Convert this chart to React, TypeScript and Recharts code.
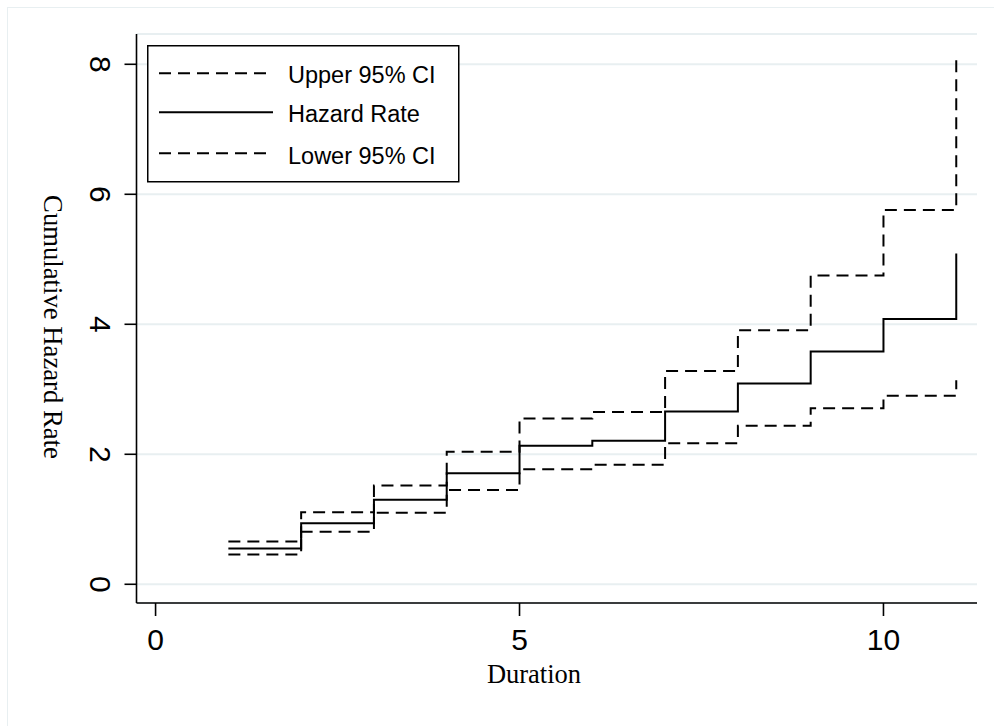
import React from 'react';
import { LineChart, Line, XAxis, YAxis, CartesianGrid, Legend } from 'recharts';

const durations = [1, 2, 3, 4, 5, 6, 7, 8, 9, 10, 11];
const hazardRate = [0.55, 0.94, 1.3, 1.71, 2.13, 2.21, 2.66, 3.09, 3.58, 4.08, 5.09];
const upperCI = [0.66, 1.11, 1.52, 2.04, 2.55, 2.65, 3.28, 3.91, 4.75, 5.76, 8.17];
const lowerCI = [0.46, 0.81, 1.1, 1.45, 1.77, 1.84, 2.17, 2.44, 2.71, 2.9, 3.14];
const xTicks = [0, 5, 10];
const yTicks = [0, 2, 4, 6, 8];
const seriesNames = ['Upper 95% CI', 'Hazard Rate', 'Lower 95% CI'];
const xTitle = 'Duration';
const yTitle = 'Cumulative Hazard Rate';

const data = durations.map((d, i) => ({
  duration: d,
  upper: upperCI[i],
  hazard: hazardRate[i],
  lower: lowerCI[i],
}));

const SANS = '"Liberation Sans", Arial, Helvetica, sans-serif';
const SERIF = '"Liberation Serif", "Times New Roman", serif';
const GRID = '#e8eff1';
const DASH = '12 7';

const XTick = (props: any) => {
  const { x, y, payload } = props;
  return (
    <text x={x} y={y + 34} textAnchor="middle" fontFamily={SANS} fontSize={30} fill="#000">
      {payload.value}
    </text>
  );
};

const YTick = (props: any) => {
  const { x, y, payload } = props;
  const tx = x - 35;
  return (
    <text
      x={tx}
      y={y}
      textAnchor="middle"
      transform={`rotate(90, ${tx}, ${y})`}
      fontFamily={SANS}
      fontSize={30}
      fill="#000"
    >
      {payload.value}
    </text>
  );
};

const LegendBox = () => {
  const rows = [
    { name: seriesNames[0], dash: DASH, ly: 28.3, ty: 38.3 },
    { name: seriesNames[1], dash: undefined, ly: 67.3, ty: 77.3 },
    { name: seriesNames[2], dash: DASH, ly: 108.3, ty: 118.5 },
  ];
  return (
    <svg width={313} height={138} style={{ display: 'block' }}>
      <rect x={0.75} y={0.75} width={311} height={136} fill="#fff" stroke="#000" strokeWidth={1.5} />
      {rows.map((r) => (
        <g key={r.name}>
          <line x1={12} x2={126} y1={r.ly} y2={r.ly} stroke="#000" strokeWidth={2} strokeDasharray={r.dash} />
          <text x={141} y={r.ty} fontFamily={SANS} fontSize={23.5} fill="#000">
            {r.name}
          </text>
        </g>
      ))}
    </svg>
  );
};

export default function App() {
  return (
    <div style={{ position: 'fixed', left: 0, top: 0, width: 994, height: 726, overflow: 'hidden', background: '#fff' }}>
      <div
        style={{
          position: 'absolute',
          left: 7,
          top: 7,
          width: 1100,
          height: 900,
          borderTop: `1.5px solid ${GRID}`,
          borderLeft: `1.5px solid ${GRID}`,
        }}
      />
      <div style={{ position: 'absolute', left: 8, top: 8 }}>
        <LineChart
          width={986}
          height={718}
          data={data}
          margin={{ top: 26, right: 17, bottom: 63, left: 68.5 }}
        >
          <CartesianGrid horizontal vertical={false} stroke={GRID} strokeWidth={2} />
          <XAxis
            dataKey="duration"
            type="number"
            domain={[-0.262, 11.285]}
            allowDataOverflow
            ticks={xTicks}
            tick={<XTick />}
            tickSize={13}
            tickMargin={0}
            height={60}
            axisLine={{ stroke: '#000', strokeWidth: 1.6 }}
            tickLine={{ stroke: '#000', strokeWidth: 1.6 }}
          />
          <YAxis
            type="number"
            domain={[-0.288, 8.466]}
            allowDataOverflow
            ticks={yTicks}
            tick={<YTick />}
            tickSize={12}
            tickMargin={0}
            width={60}
            axisLine={{ stroke: '#000', strokeWidth: 1.6 }}
            tickLine={{ stroke: '#000', strokeWidth: 1.6 }}
          />
          <Legend
            layout="horizontal"
            verticalAlign="middle"
            align="center"
            content={<LegendBox />}
            wrapperStyle={{ left: 139, top: 37, width: 313, height: 138 }}
          />
          <Line
            type="stepAfter"
            dataKey="upper"
            name={seriesNames[0]}
            stroke="#000"
            strokeWidth={2}
            strokeDasharray={DASH}
            dot={false}
            activeDot={false}
            isAnimationActive={false}
          />
          <Line
            type="stepAfter"
            dataKey="hazard"
            name={seriesNames[1]}
            stroke="#000"
            strokeWidth={2}
            dot={false}
            activeDot={false}
            isAnimationActive={false}
          />
          <Line
            type="stepAfter"
            dataKey="lower"
            name={seriesNames[2]}
            stroke="#000"
            strokeWidth={2}
            strokeDasharray={DASH}
            dot={false}
            activeDot={false}
            isAnimationActive={false}
          />
        </LineChart>
        <svg width={986} height={718} style={{ position: 'absolute', left: 0, top: 0, pointerEvents: 'none' }}>
          <text x={534 - 8} y={683 - 8} textAnchor="middle" fontFamily={SERIF} fontSize={26.5} fill="#000">
            {xTitle}
          </text>
          <text
            x={44 - 8}
            y={327 - 8}
            textAnchor="middle"
            transform={`rotate(90, ${44 - 8}, ${327 - 8})`}
            fontFamily={SERIF}
            fontSize={26.7}
            fill="#000"
          >
            {yTitle}
          </text>
        </svg>
      </div>
    </div>
  );
}
